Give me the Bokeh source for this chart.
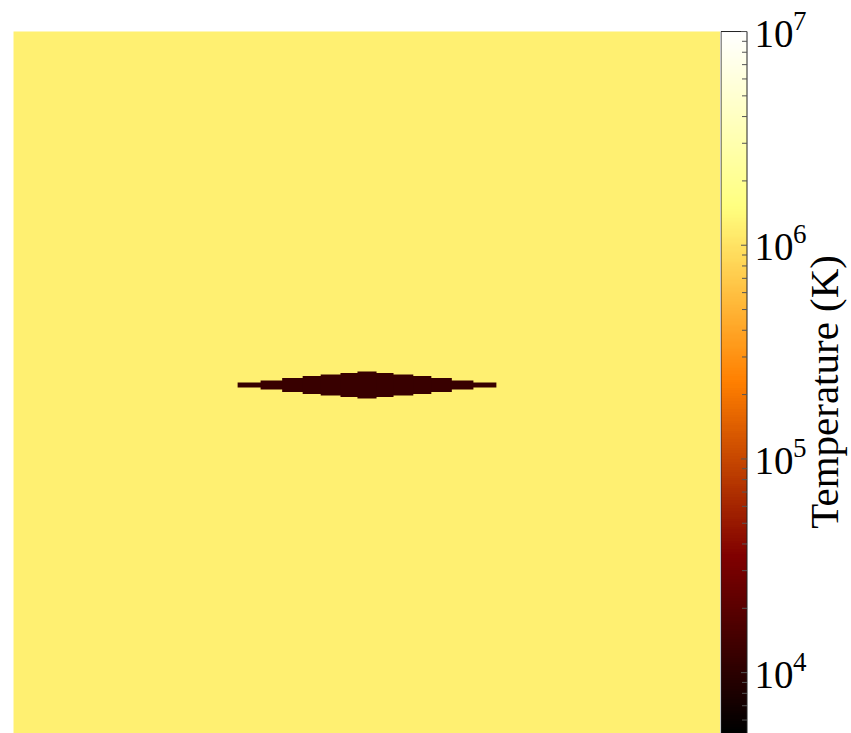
import numpy as np
from bokeh.plotting import figure
from bokeh.models import ColumnDataSource, Range1d, LogColorMapper
from bokeh.layouts import row
from bokeh.core.properties import value
from bokeh.embed import file_html
from bokeh.resources import INLINE

# ---------------- data ----------------
DOMAIN_X = [-10.0, 10.0]          # extent of the temperature map
DOMAIN_Y = [-10.0, 10.0]
T_BACKGROUND = 1.2e6              # hot halo gas (K)
T_DISK = 1.2e4                    # cold disk gas (K)
# stepped disk: half width / half thickness of each refinement layer
DISK_HALF_WIDTH = [3.66, 3.01, 2.40, 1.82, 1.31, 0.75, 0.27]
DISK_HALF_HEIGHT = [0.071, 0.127, 0.198, 0.255, 0.297, 0.340, 0.382]

CBAR_LOW = 5.19e3
CBAR_HIGH = 1.0e7
MAJOR_TICKS = [1e4, 1e5, 1e6, 1e7]
TICK_BASE = ["10", "10", "10", "10"]
TICK_EXP = ["4", "5", "6", "7"]
MINOR_TICKS = [m * 10.0 ** e for e in (3, 4, 5, 6) for m in range(2, 10)
               if CBAR_LOW <= m * 10.0 ** e <= CBAR_HIGH]
CBAR_TITLE = "Temperature (K)"

# afmhot colormap
xs = np.linspace(0, 1, 256)
_r = np.clip(2 * xs, 0, 1)
_g = np.clip(2 * xs - 0.5, 0, 1)
_b = np.clip(2 * xs - 1.0, 0, 1)
PALETTE = ["#%02x%02x%02x" % (int(round(255 * a)), int(round(255 * b)), int(round(255 * c)))
           for a, b, c in zip(_r, _g, _b)]
mapper = LogColorMapper(palette=PALETTE, low=CBAR_LOW, high=CBAR_HIGH)

SERIF = value("Liberation Serif")

# ---------------- temperature map ----------------
p = figure(width=720, height=733,
           x_range=Range1d(-10.368, 10.0), y_range=Range1d(-9.859, 10.877),
           x_axis_location=None, y_axis_location=None,
           output_backend="svg", toolbar_location=None,
           min_border_left=0, min_border_right=0,
           min_border_top=0, min_border_bottom=0)
p.grid.visible = False
p.outline_line_color = None

bg = ColumnDataSource(dict(left=[DOMAIN_X[0]], right=[DOMAIN_X[1]],
                           bottom=[DOMAIN_Y[0]], top=[DOMAIN_Y[1]],
                           T=[T_BACKGROUND]))
p.quad(left="left", right="right", bottom="bottom", top="top", source=bg,
       fill_color={"field": "T", "transform": mapper}, line_color=None)

disk = ColumnDataSource(dict(
    left=[-w for w in DISK_HALF_WIDTH], right=list(DISK_HALF_WIDTH),
    bottom=[-h for h in DISK_HALF_HEIGHT], top=list(DISK_HALF_HEIGHT),
    T=[T_DISK] * len(DISK_HALF_WIDTH)))
p.quad(left="left", right="right", bottom="bottom", top="top", source=disk,
       fill_color={"field": "T", "transform": mapper}, line_color=None)

# ---------------- colour bar ----------------
c = figure(width=131, height=733,
           x_range=Range1d(0, 131), y_range=Range1d(CBAR_LOW, 1.397e7),
           y_axis_type="log",
           x_axis_location=None, y_axis_location=None,
           output_backend="svg", toolbar_location=None,
           min_border_left=0, min_border_right=0,
           min_border_top=0, min_border_bottom=0)
c.grid.visible = False
c.outline_line_color = None

levels = 10 ** np.linspace(np.log10(CBAR_LOW), np.log10(CBAR_HIGH), 600)
c.image(image=[levels.reshape(-1, 1)], x=0.5, y=CBAR_LOW, dw=26,
        dh=CBAR_HIGH - CBAR_LOW, color_mapper=mapper)
c.quad(left=[0.5], right=[26.5], bottom=[CBAR_LOW], top=[CBAR_HIGH],
       fill_color=None, line_color="#222222", line_width=1)

c.segment(x0=[21.5] * len(MINOR_TICKS), x1=[26.5] * len(MINOR_TICKS),
          y0=MINOR_TICKS, y1=MINOR_TICKS, line_color="#555555", line_width=1)
c.segment(x0=[20.5] * len(MAJOR_TICKS), x1=[26.5] * len(MAJOR_TICKS),
          y0=MAJOR_TICKS, y1=MAJOR_TICKS, line_color="#555555", line_width=1)

c.text(x=[34] * len(MAJOR_TICKS), y=MAJOR_TICKS, text=TICK_BASE,
       text_font=SERIF, text_font_size="39px", text_color="black",
       text_align="left", text_baseline="alphabetic", y_offset=2)
c.text(x=[72.5] * len(MAJOR_TICKS), y=MAJOR_TICKS, text=TICK_EXP,
       text_font=SERIF, text_font_size="27px", text_color="black",
       text_align="left", text_baseline="alphabetic", y_offset=-11)

c.text(x=[103], y=[2.06e5], text=[CBAR_TITLE], angle=np.pi / 2,
       text_font=SERIF, text_font_size="41px", text_color="black",
       text_align="center", text_baseline="alphabetic")

layout = row(p, c, spacing=0)
open("out.html", "w").write(file_html(layout, INLINE))
